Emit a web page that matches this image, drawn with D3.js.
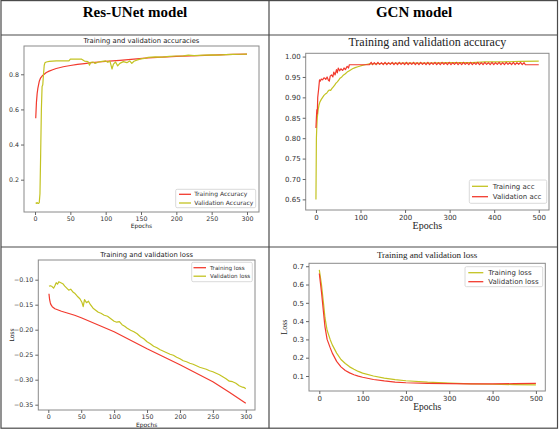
<!DOCTYPE html>
<html>
<head>
<meta charset="utf-8">
<script src="https://cdn.jsdelivr.net/npm/d3@7"></script>
<style>
  body { margin: 0; background: #fff; }
  svg { display: block; }
</style>
</head>
<body>
<div id="chart"></div>
<script>
// ---- data ----
const columnHeaders = ["Res-UNet model", "GCN model"];

// Res-UNet accuracy (epochs 1..300)
const unetTrainAcc = [[1,0.55],[2,0.64],[3,0.69],[4,0.72],[5,0.74],[6,0.76],[8,0.78],[10,0.79],[13,0.80],[16,0.81],[20,0.818],[25,0.826],[30,0.833],[40,0.843],[50,0.85],[60,0.856],[70,0.861],[80,0.866],[90,0.87],[100,0.873],[120,0.879],[140,0.886],[160,0.893],[180,0.898],[200,0.902],[220,0.905],[240,0.908],[260,0.911],[280,0.913],[300,0.915]];
const unetValAcc = [[1,0.07],[2,0.065],[3,0.07],[4,0.065],[5,0.065],[6,0.07],[7,0.12],[8,0.35],[9,0.6],[10,0.73],[11,0.74],[12,0.80],[13,0.85],[14,0.865],[16,0.87],[20,0.873],[30,0.876],[40,0.877],[48,0.876],[50,0.886],[55,0.886],[60,0.887],[66,0.886],[70,0.875],[75,0.872],[77,0.852],[79,0.868],[82,0.87],[85,0.862],[90,0.87],[95,0.873],[100,0.876],[103,0.868],[106,0.875],[109,0.83],[111,0.858],[114,0.87],[117,0.848],[120,0.862],[125,0.872],[130,0.866],[134,0.876],[137,0.862],[140,0.874],[145,0.882],[150,0.888],[155,0.89],[160,0.896],[170,0.899],[180,0.898],[190,0.902],[200,0.904],[210,0.905],[217,0.909],[225,0.906],[240,0.909],[250,0.911],[260,0.909],[270,0.912],[280,0.913],[290,0.914],[300,0.915]];

// GCN accuracy (epochs 0..500)
const gcnTrainAcc = [[0,0.65],[1,0.8],[2,0.83],[3,0.85],[5,0.87],[7,0.882],[9,0.889],[12,0.895],[15,0.9],[18,0.905],[21,0.908],[24,0.91],[27,0.915],[30,0.918],[33,0.917],[36,0.922],[39,0.926],[42,0.93],[45,0.935],[48,0.938],[51,0.942],[54,0.947],[58,0.95],[62,0.955],[66,0.958],[70,0.962],[76,0.966],[82,0.97],[88,0.973],[94,0.975],[100,0.977],[110,0.98],[120,0.982],[150,0.983],[200,0.984],[250,0.984],[300,0.985],[350,0.985],[380,0.987],[420,0.987],[460,0.988],[500,0.989]];
const gcnValAcc = [[0,0.825],[1,0.85],[2,0.87],[3,0.86],[4,0.9],[6,0.92],[8,0.943],[10,0.94],[12,0.945],[15,0.943],[18,0.948],[20,0.947],[22,0.944],[25,0.95],[28,0.942],[30,0.94],[32,0.952],[35,0.955],[38,0.95],[40,0.962],[43,0.955],[46,0.968],[48,0.96],[50,0.972],[53,0.965],[56,0.97],[60,0.966],[63,0.972],[66,0.968],[70,0.976],[73,0.972],[75,0.98],[120,0.98],
  [124,0.986],[127,0.98],[131,0.985],[135,0.98],[139,0.986],[143,0.981],[147,0.985],[151,0.98],[155,0.986],[159,0.98],[163,0.985],[167,0.981],[171,0.986],[175,0.98],[179,0.985],[183,0.98],[187,0.986],[191,0.981],[195,0.985],[199,0.98],[203,0.986],[207,0.98],[211,0.985],[215,0.981],[219,0.986],[223,0.98],[227,0.985],[231,0.98],[235,0.986],[239,0.981],[243,0.985],[247,0.98],[251,0.986],[255,0.98],[259,0.985],[263,0.981],[267,0.986],[271,0.98],[275,0.985],[279,0.98],[283,0.986],[287,0.981],[291,0.985],[295,0.98],[299,0.986],[303,0.98],[307,0.985],[311,0.981],[315,0.986],[319,0.98],[323,0.985],[327,0.98],[331,0.986],[335,0.981],[339,0.985],[343,0.98],[347,0.986],[351,0.98],[355,0.985],[359,0.981],[363,0.986],[367,0.98],[371,0.985],[375,0.98],[379,0.986],[383,0.981],[387,0.985],[391,0.98],[395,0.986],[399,0.98],[403,0.985],[407,0.981],[411,0.986],[415,0.98],[419,0.985],[423,0.98],[427,0.986],[431,0.981],[435,0.985],[439,0.98],[443,0.986],[447,0.98],[451,0.985],[455,0.981],[459,0.986],[463,0.98],[467,0.985],[470,0.98],[500,0.98]];

// Res-UNet loss (epochs 1..300)
const unetTrainLoss = [[1,-0.128],[2,-0.140],[3,-0.146],[4,-0.150],[6,-0.154],[8,-0.156],[10,-0.158],[20,-0.163],[30,-0.167],[40,-0.171],[50,-0.176],[75,-0.190],[100,-0.204],[125,-0.221],[150,-0.238],[175,-0.254],[200,-0.270],[225,-0.287],[250,-0.304],[275,-0.325],[300,-0.347]];
const unetValLoss = [[1,-0.113],[3,-0.112],[5,-0.113],[8,-0.117],[10,-0.112],[12,-0.106],[14,-0.109],[16,-0.104],[19,-0.106],[22,-0.108],[25,-0.113],[28,-0.117],[31,-0.121],[34,-0.119],[37,-0.124],[40,-0.127],[44,-0.133],[48,-0.138],[51,-0.145],[53,-0.154],[55,-0.140],[58,-0.146],[61,-0.143],[64,-0.150],[68,-0.157],[72,-0.161],[76,-0.165],[80,-0.167],[85,-0.171],[90,-0.173],[95,-0.178],[100,-0.183],[104,-0.185],[108,-0.184],[112,-0.190],[116,-0.193],[120,-0.197],[125,-0.201],[130,-0.204],[135,-0.208],[140,-0.214],[145,-0.218],[150,-0.224],[155,-0.228],[160,-0.233],[165,-0.236],[170,-0.240],[175,-0.243],[180,-0.246],[185,-0.249],[190,-0.251],[195,-0.255],[200,-0.258],[205,-0.262],[210,-0.264],[215,-0.267],[220,-0.269],[225,-0.272],[230,-0.275],[235,-0.277],[240,-0.279],[245,-0.282],[250,-0.284],[255,-0.287],[260,-0.290],[265,-0.294],[270,-0.298],[275,-0.303],[280,-0.304],[285,-0.307],[290,-0.312],[295,-0.315],[298,-0.316],[300,-0.318]];

// GCN loss (epochs 0..500)
const gcnTrainLoss = [[0,0.68],[5,0.6],[10,0.49],[13,0.42],[18,0.35],[25,0.30],[30,0.27],[40,0.225],[50,0.19],[60,0.168],[70,0.15],[80,0.137],[90,0.125],[100,0.116],[125,0.1],[150,0.088],[175,0.08],[200,0.074],[250,0.066],[300,0.061],[350,0.057],[400,0.055],[450,0.053],[500,0.051]];
const gcnValLoss = [[0,0.66],[5,0.56],[10,0.44],[13,0.37],[18,0.30],[25,0.255],[30,0.225],[40,0.18],[50,0.15],[60,0.13],[70,0.117],[80,0.107],[90,0.099],[100,0.093],[125,0.081],[150,0.073],[175,0.067],[200,0.063],[250,0.06],[300,0.058],[350,0.057],[400,0.057],[450,0.058],[500,0.06]];

// tick values
const unetEpochTicks = [0, 50, 100, 150, 200, 250, 300];
const gcnEpochTicks = [0, 100, 200, 300, 400, 500];
const unetAccTicks = [0.2, 0.4, 0.6, 0.8];
const gcnAccTicks = [0.65, 0.70, 0.75, 0.80, 0.85, 0.90, 0.95, 1.00];
const unetLossTicks = [-0.35, -0.30, -0.25, -0.20, -0.15, -0.10];
const gcnLossTicks = [0.1, 0.2, 0.3, 0.4, 0.5, 0.6, 0.7];

// ---- drawing ----
const RED = "#f23a2e", YEL = "#c3c322";
const SANS = "DejaVu Sans, sans-serif", SERIF = "Liberation Serif, Times New Roman, serif";

const svg = d3.select("#chart").append("svg")
  .attr("width", 560).attr("height", 431);

// table grid
const grid = svg.append("g").attr("stroke", "#4a4a4a").attr("stroke-width", 1.2).attr("fill", "none");
grid.append("rect").attr("x", 1).attr("y", 0.6).attr("width", 556.5).attr("height", 427.6);
grid.append("line").attr("x1", 1).attr("x2", 557.5).attr("y1", 35).attr("y2", 35);
grid.append("line").attr("x1", 1).attr("x2", 557.5).attr("y1", 247).attr("y2", 247);
grid.append("line").attr("x1", 269).attr("x2", 269).attr("y1", 0.6).attr("y2", 428.2);

svg.selectAll(".hdr").data(columnHeaders).enter().append("text")
  .attr("class", "hdr")
  .attr("x", (d, i) => i === 0 ? 135 : 414)
  .attr("y", 17)
  .attr("text-anchor", "middle")
  .style("font-family", SERIF).style("font-weight", "bold").style("font-size", "15px")
  .text(d => d);

function drawPanel(p) {
  const g = svg.append("g");
  const x = d3.scaleLinear().domain(p.xDom).range([p.l, p.r]);
  const y = d3.scaleLinear().domain(p.yDom).range([p.b, p.t]);

  const line = d3.line().x(d => x(d[0])).y(d => y(d[1]));
  p.series.forEach(s => {
    g.append("path").datum(s.data)
      .attr("fill", "none").attr("stroke", s.color).attr("stroke-width", 1.2)
      .attr("stroke-linejoin", "round")
      .attr("d", line);
  });

  g.append("rect").attr("x", p.l).attr("y", p.t).attr("width", p.r - p.l).attr("height", p.b - p.t)
    .attr("fill", "none").attr("stroke", "#8a8a8a").attr("stroke-width", 1);

  const xa = g.append("g").attr("transform", `translate(0,${p.b})`)
    .call(d3.axisBottom(x).tickValues(p.xTicks).tickSize(3).tickPadding(2));
  const ya = g.append("g").attr("transform", `translate(${p.l},0)`)
    .call(d3.axisLeft(y).tickValues(p.yTicks).tickFormat(d3.format(p.yFmt)).tickSize(3).tickPadding(2));
  [xa, ya].forEach(a => {
    a.select(".domain").remove();
    a.selectAll("text").style("font-family", SANS).style("font-size", p.tickSize + "px").attr("fill", "#333");
    a.selectAll("line").attr("stroke", "#666");
  });

  g.append("text").attr("x", (p.l + p.r) / 2).attr("y", p.titleY).attr("text-anchor", "middle")
    .style("font-family", p.titleFont).style("font-size", p.titleSize + "px").attr("fill", "#222")
    .text(p.title);
  g.append("text").attr("x", (p.l + p.r) / 2).attr("y", p.xlabY).attr("text-anchor", "middle")
    .style("font-family", p.labFont).style("font-size", p.labSize + "px").attr("fill", "#222")
    .text("Epochs");
  if (p.ylab) {
    g.append("text").attr("transform", `translate(${p.ylabX},${(p.t + p.b) / 2}) rotate(-90)`)
      .attr("text-anchor", "middle")
      .style("font-family", p.labFont).style("font-size", p.ylabSize + "px").attr("fill", "#222")
      .text(p.ylab);
  }

  // legend
  const L = p.legend;
  g.append("rect").attr("x", L.x).attr("y", L.y).attr("width", L.w).attr("height", L.h).attr("rx", 1.5)
    .attr("fill", "#fff").attr("fill-opacity", 0.85).attr("stroke", "#d0d0d0").attr("stroke-width", 0.8);
  p.series.forEach((s, i) => {
    const ry = L.rows[i];
    g.append("line").attr("x1", L.lx0).attr("x2", L.lx1).attr("y1", ry).attr("y2", ry)
      .attr("stroke", s.color).attr("stroke-width", 1.3);
    g.append("text").attr("x", L.tx).attr("y", ry).attr("dy", "0.35em")
      .style("font-family", SANS).style("font-size", L.size + "px").attr("fill", "#333")
      .text(s.name);
  });
}

drawPanel({
  l: 24, r: 259, t: 46, b: 212, xDom: [-15.6, 317], yDom: [0.016, 0.961],
  xTicks: unetEpochTicks, yTicks: unetAccTicks, yFmt: ".1f", tickSize: 6.3,
  title: "Training and validation accuracies", titleY: 43, titleFont: SANS, titleSize: 6.8,
  xlabY: 227.5, labFont: SANS, labSize: 6,
  series: [
    { name: "Training Accuracy", color: RED, data: unetTrainAcc },
    { name: "Validation Accuracy", color: YEL, data: unetValAcc }
  ],
  legend: { x: 175.7, y: 189.3, w: 80, h: 18.4, rows: [194.3, 203], lx0: 179, lx1: 191, tx: 194.3, size: 6 }
});

drawPanel({
  l: 305.7, r: 549, t: 53.3, b: 210, xDom: [-23, 523], yDom: [0.624, 1.008],
  xTicks: gcnEpochTicks, yTicks: gcnAccTicks, yFmt: ".2f", tickSize: 7,
  title: "Training and validation accuracy", titleY: 45.5, titleFont: SERIF, titleSize: 12,
  xlabY: 229, labFont: SERIF, labSize: 10,
  series: [
    { name: "Training acc", color: YEL, data: gcnTrainAcc },
    { name: "Validation acc", color: RED, data: gcnValAcc }
  ],
  legend: { x: 469.3, y: 180, w: 77.4, h: 23.3, rows: [186.3, 196.7], lx0: 472, lx1: 488, tx: 492.7, size: 7 }
});

drawPanel({
  l: 38.3, r: 255, t: 260, b: 410, xDom: [-15.2, 314], yDom: [-0.3606, -0.0606],
  xTicks: unetEpochTicks, yTicks: unetLossTicks, yFmt: ".2f", tickSize: 6.3,
  title: "Training and validation loss", titleY: 257, titleFont: SANS, titleSize: 6.8,
  xlabY: 426.5, labFont: SANS, labSize: 6, ylab: "Loss", ylabX: 14, ylabSize: 6,
  series: [
    { name: "Training loss", color: RED, data: unetTrainLoss },
    { name: "Validation loss", color: YEL, data: unetValLoss }
  ],
  legend: { x: 191.7, y: 262.3, w: 60.6, h: 19.4, rows: [267.7, 276.2], lx0: 193.5, lx1: 206, tx: 210, size: 5.6 }
});

drawPanel({
  l: 309, r: 545.3, t: 263.3, b: 391, xDom: [-23.8, 521.7], yDom: [0.018, 0.716],
  xTicks: gcnEpochTicks, yTicks: gcnLossTicks, yFmt: ".1f", tickSize: 7,
  title: "Training and validation loss", titleY: 257.5, titleFont: SERIF, titleSize: 9,
  xlabY: 410, labFont: SERIF, labSize: 9.5, ylab: "Loss", ylabX: 287, ylabSize: 8,
  series: [
    { name: "Training loss", color: YEL, data: gcnTrainLoss },
    { name: "Validation loss", color: RED, data: gcnValLoss }
  ],
  legend: { x: 465, y: 266.7, w: 77.7, h: 20, rows: [272.7, 281.7], lx0: 468.3, lx1: 483.3, tx: 488.3, size: 7 }
});
</script>
</body>
</html>
